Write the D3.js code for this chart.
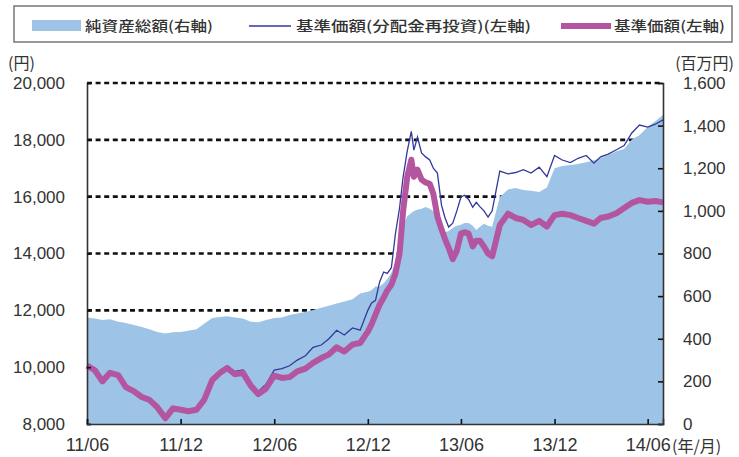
<!DOCTYPE html>
<html>
<head>
<meta charset="utf-8">
<script src="https://cdn.jsdelivr.net/npm/d3@7"></script>
<style>
  body { margin: 0; background: #fff; }
  svg { display: block; }
  .num { font-family: "Liberation Sans", Arial, sans-serif; fill: #333; }
  .jp { font-family: "Noto Sans CJK JP", sans-serif; fill: #333; }
</style>
</head>
<body>
<svg class="target" width="739" height="457"></svg>
<script>
// dates of the readings
var dates = [
  "2011-06-01","2011-06-16","2011-07-01","2011-07-16","2011-08-01","2011-08-16","2011-09-01","2011-09-16",
  "2011-10-01","2011-10-16","2011-11-01","2011-11-16","2011-12-01","2011-12-16","2012-01-01","2012-01-16",
  "2012-02-01","2012-02-16","2012-03-01","2012-03-16","2012-04-01","2012-04-16","2012-05-01","2012-05-16",
  "2012-06-01","2012-06-16","2012-07-01","2012-07-16","2012-08-01","2012-08-16","2012-09-01","2012-09-16",
  "2012-10-01","2012-10-16","2012-11-01","2012-11-16","2012-12-01","2012-12-08","2012-12-16","2012-12-24",
  "2013-01-01","2013-01-08","2013-01-16","2013-01-24","2013-02-01","2013-02-08","2013-02-16","2013-02-24",
  "2013-03-01","2013-03-08","2013-03-16","2013-03-24","2013-04-01","2013-04-08","2013-04-16","2013-04-24",
  "2013-05-01","2013-05-08","2013-05-16","2013-05-24","2013-06-01","2013-06-08","2013-06-16","2013-06-24",
  "2013-07-01","2013-07-08","2013-07-16","2013-07-24","2013-08-01","2013-08-16","2013-09-01","2013-09-16",
  "2013-10-01","2013-10-16","2013-11-01","2013-11-16","2013-12-01","2013-12-16","2014-01-01","2014-01-16",
  "2014-02-01","2014-02-16","2014-03-01","2014-03-16","2014-04-01","2014-04-16","2014-05-01","2014-05-16",
  "2014-06-01","2014-06-16","2014-07-01"
];

// 基準価額 (円, left axis)
var nav = [
  10050, 9900, 9500, 9800, 9720, 9300, 9150, 8950,
  8850, 8600, 8200, 8550, 8500, 8450, 8500, 8850,
  9550, 9800, 9970, 9750, 9800, 9350, 9050, 9250,
  9700, 9620, 9650, 9850, 9950, 10150, 10320, 10450,
  10700, 10550, 10800, 10850, 11250, 11500, 11850, 12200,
  12450, 12700, 12900, 13300, 14000, 15500, 16700, 17300,
  16700, 16950, 16600, 16500, 16450, 16100, 15300, 14850,
  14500, 14200, 13800, 14100, 14700, 14750, 14700, 14250,
  14450, 14450, 14250, 14000, 13900, 15000, 15400, 15250,
  15180, 15000, 15150, 14950, 15350, 15400, 15350, 15250,
  15150, 15050, 15250, 15300, 15420, 15600, 15780, 15880,
  15820, 15850, 15800
];

// 基準価額(分配金再投資) (円, left axis)
var navReinvest = [
  10050, 9900, 9500, 9800, 9720, 9300, 9150, 8950,
  8850, 8600, 8200, 8550, 8500, 8450, 8500, 8850,
  9600, 9870, 10050, 9850, 9900, 9450, 9150, 9400,
  9900, 9950, 10050, 10250, 10400, 10700, 10780, 11000,
  11300, 11130, 11380, 11300, 12000, 12250, 12350, 13000,
  13350, 13300, 13500, 14700, 15600, 16700, 17600, 18300,
  17640, 18100, 17540, 17400, 17290, 17000, 16830, 15700,
  15250, 14930, 15070, 15500, 15990, 16050, 15900, 15630,
  15800, 15650, 15500, 15280, 15500, 16900, 16800, 16850,
  16950, 16830, 17040, 16700, 17450, 17290, 17200, 17350,
  17450, 17180, 17400, 17500, 17650, 17800, 18240, 18520,
  18450, 18550, 18700
];

// 純資産総額 (百万円, right axis)
var netAssets = [
  500, 495, 488, 492, 480, 474, 465, 455,
  445, 432, 425, 430, 432, 438, 445, 470,
  497, 502, 505, 500, 495, 480, 478, 488,
  497, 500, 511, 518, 525, 535, 545, 555,
  565, 575, 585, 612, 620, 628, 645, 645,
  660, 680, 710, 760, 860, 930, 975, 990,
  1000, 1005, 1010, 1018, 1010, 1000, 985, 940,
  900, 905, 920, 930, 935, 943, 943, 930,
  910, 925, 940, 930, 925, 1065, 1100, 1107,
  1098, 1095, 1089, 1110, 1200, 1210, 1215, 1220,
  1228, 1238, 1248, 1262, 1280, 1290, 1335, 1355,
  1393, 1420, 1450
];

var leftTicks = [8000, 10000, 12000, 14000, 16000, 18000, 20000];
var rightTicks = [0, 200, 400, 600, 800, 1000, 1200, 1400, 1600];
var xTickDates = ["2011-06-01", "2011-12-01", "2012-06-01", "2012-12-01", "2013-06-01", "2013-12-01", "2014-06-01"];
var xTickLabels = ["11/06", "11/12", "12/06", "12/12", "13/06", "13/12", "14/06"];

var legendLabels = ["純資産総額(右軸)", "基準価額(分配金再投資)(左軸)", "基準価額(左軸)"];

var colors = { area: "#9dc3e6", reinvest: "#34389a", nav: "#b4559f" };

var parse = d3.timeParse("%Y-%m-%d");
var svg = d3.select(".target");

// plot box
var plotL = 87, plotR = 663, plotT = 83, plotB = 424;

var x = d3.scaleTime()
    .domain([parse("2011-06-01"), parse("2014-07-01")])
    .range([plotL, plotR]);
var yL = d3.scaleLinear().domain([8000, 20000]).range([plotB, plotT]);
var yR = d3.scaleLinear().domain([0, 1600]).range([plotB, plotT]);

var rows = dates.map(function (d, i) {
    return { date: parse(d), nav: nav[i], re: navReinvest[i], assets: netAssets[i] };
});

// grid lines (behind the area)
svg.append("g")
    .selectAll("line")
    .data(leftTicks.filter(function (t) { return t > 8000; }))
    .join("line")
    .attr("x1", plotL).attr("x2", plotR)
    .attr("y1", function (d) { return yL(d); })
    .attr("y2", function (d) { return yL(d); })
    .style("stroke", "#111")
    .style("stroke-width", 2.6)
    .style("stroke-dasharray", "5,3.6");

// net assets area
svg.append("path")
    .datum(rows)
    .attr("d", d3.area()
        .x(function (d) { return x(d.date); })
        .y0(plotB)
        .y1(function (d) { return yR(d.assets); }))
    .style("fill", colors.area);

// reinvested NAV line
svg.append("path")
    .datum(rows)
    .attr("d", d3.line()
        .x(function (d) { return x(d.date); })
        .y(function (d) { return yL(d.re); }))
    .style("fill", "none")
    .style("stroke", colors.reinvest)
    .style("stroke-width", 1.3);

// NAV line
svg.append("path")
    .datum(rows)
    .attr("d", d3.line()
        .x(function (d) { return x(d.date); })
        .y(function (d) { return yL(d.nav); }))
    .style("fill", "none")
    .style("stroke", colors.nav)
    .style("stroke-width", 6)
    .style("stroke-linejoin", "round");

// axes
var axisL = svg.append("g")
    .attr("transform", "translate(" + plotL + ",0)")
    .call(d3.axisLeft(yL).tickValues(leftTicks).tickSize(-4).tickPadding(22)
        .tickFormat(d3.format(",")));
var axisR = svg.append("g")
    .attr("transform", "translate(" + plotR + ",0)")
    .call(d3.axisRight(yR).tickValues(rightTicks).tickSize(-5).tickPadding(20)
        .tickFormat(d3.format(",")));
var axisB = svg.append("g")
    .attr("transform", "translate(0," + plotB + ")")
    .call(d3.axisBottom(x).tickValues(xTickDates.map(parse)).tickSize(-5).tickPadding(14)
        .tickFormat(function (d, i) { return xTickLabels[i]; }));

[axisL, axisR, axisB].forEach(function (g) {
    g.select(".domain").style("stroke", "#333").style("stroke-width", 1.6);
    g.selectAll(".tick line").style("stroke", "#111").style("stroke-width", 1.6);
    g.selectAll(".tick text")
        .attr("class", "num")
        .style("font-size", "17px")
        .style("fill", "#333");
});
axisB.selectAll(".tick text").style("font-size", "18px");

// unit labels
svg.append("text").attr("class", "jp").attr("x", 8).attr("y", 69)
    .style("font-size", "16px").text("(円)");
svg.append("text").attr("class", "jp").attr("x", 734).attr("y", 69)
    .attr("text-anchor", "end").style("font-size", "16px").text("(百万円)");
svg.append("text").attr("class", "jp").attr("x", 672).attr("y", 452)
    .style("font-size", "16px").text("(年/月)");

// legend
svg.append("rect")
    .attr("x", 14).attr("y", 6).attr("width", 718).attr("height", 36)
    .style("fill", "#fff").style("stroke", "#777").style("stroke-width", 1.5);

svg.append("rect")
    .attr("x", 32).attr("y", 20).attr("width", 49).attr("height", 11)
    .style("fill", colors.area);
svg.append("line")
    .attr("x1", 249).attr("x2", 291).attr("y1", 26).attr("y2", 26)
    .style("stroke", colors.reinvest).style("stroke-width", 1.5);
svg.append("line")
    .attr("x1", 561).attr("x2", 611).attr("y1", 26).attr("y2", 26)
    .style("stroke", colors.nav).style("stroke-width", 6);

var legendX = [85, 296, 614];
var legendW = [128, 235, 111];
legendLabels.forEach(function (t, i) {
    svg.append("text")
        .attr("class", "jp")
        .attr("x", legendX[i]).attr("y", 31)
        .attr("textLength", legendW[i])
        .attr("lengthAdjust", "spacingAndGlyphs")
        .style("font-size", "14px")
        .style("font-weight", "500")
        .text(t);
});
</script>
</body>
</html>
